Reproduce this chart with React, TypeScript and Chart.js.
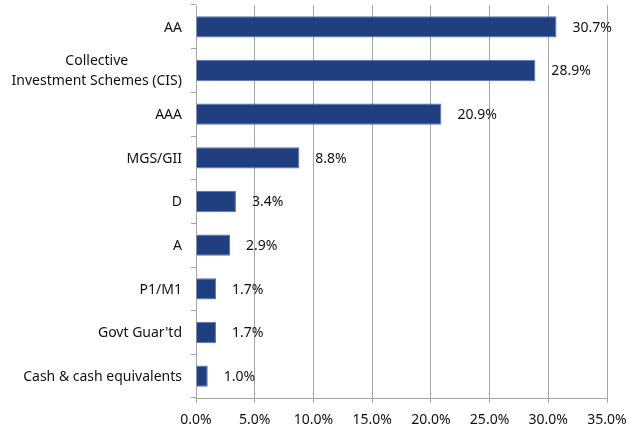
import React, { useEffect, useRef } from "react";
import { Chart, registerables } from "chart.js";

Chart.register(...registerables);

const categories: (string | string[])[] = [
  "AA",
  ["Collective", "Investment Schemes (CIS)"],
  "AAA",
  "MGS/GII",
  "D",
  "A",
  "P1/M1",
  "Govt Guar'td",
  "Cash & cash equivalents",
];
const values: number[] = [30.7, 28.9, 20.9, 8.8, 3.4, 2.9, 1.7, 1.7, 1.0];
const xTickMax = 35;
const xTickStep = 5;

const FONT = "Noto Sans";
const TEXT = "#111111";
const GRID = "#a6a6a6";
const BAR = "#1f3f80";

const labelPlugin = {
  id: "customLabels",
  afterDraw(chart: any) {
    const ctx = chart.ctx as CanvasRenderingContext2D;
    const yScale = chart.scales.y;
    const meta = chart.getDatasetMeta(0);
    ctx.save();
    ctx.font = `14px "${FONT}"`;
    ctx.fillStyle = TEXT;
    // value labels
    ctx.textAlign = "left";
    ctx.textBaseline = "middle";
    meta.data.forEach((bar: any, i: number) => {
      ctx.fillText(values[i].toFixed(1) + "%", bar.x + 16, bar.y + 1);
    });
    // category labels
    const rightX = yScale.right - 14;
    categories.forEach((c, i) => {
      const y = yScale.getPixelForValue(i);
      const lines = Array.isArray(c) ? c : [c];
      const lh = 20;
      const widths = lines.map((l) => ctx.measureText(l).width);
      const maxW = Math.max(...widths);
      const cx = rightX - maxW / 2;
      ctx.textAlign = "center";
      lines.forEach((l, k) => {
        const ly = y + (k - (lines.length - 1) / 2) * lh + 1;
        ctx.fillText(l, cx, ly);
      });
    });
    ctx.restore();
  },
};

export default function App() {
  const ref = useRef<HTMLCanvasElement | null>(null);
  useEffect(() => {
    if (!ref.current) return;
    const chart = new Chart(ref.current, {
      type: "bar",
      data: {
        labels: categories as any,
        datasets: [
          {
            data: values,
            backgroundColor: BAR,
            borderColor: "#5471ad",
            borderWidth: 1,
            categoryPercentage: 1,
            barPercentage: 0.49,
          },
        ],
      },
      options: {
        indexAxis: "y",
        animation: false,
        responsive: false,
        maintainAspectRatio: false,
        layout: { padding: { top: 5, right: 31, bottom: 0, left: 0 } },
        plugins: {
          legend: { display: false },
          tooltip: { enabled: false },
          title: { display: false },
        },
        scales: {
          x: {
            min: 0,
            max: xTickMax,
            afterFit(scale: any) {
              scale.height = 28;
            },
            ticks: {
              stepSize: xTickStep,
              color: TEXT,
              font: { family: FONT, size: 14 },
              padding: 9,
              callback: (v: any) => Number(v).toFixed(1) + "%",
            },
            grid: {
              color: GRID,
              lineWidth: 1,
              drawTicks: true,
              tickLength: 5,
              tickColor: GRID,
            },
            border: { display: true, color: GRID, width: 1 },
          },
          y: {
            afterFit(scale: any) {
              scale.width = 196;
            },
            ticks: { display: false },
            grid: {
              drawOnChartArea: false,
              drawTicks: true,
              tickLength: 5,
              tickColor: GRID,
              offset: true,
            },
            border: { display: true, color: GRID, width: 1 },
          },
        },
      },
      plugins: [labelPlugin],
    });
    return () => chart.destroy();
  }, []);
  return (
    <div style={{ position: "fixed", left: 0, top: 0, width: 638, height: 426, background: "#fff" }}>
      <canvas ref={ref} width={638} height={426} style={{ display: "block" }} />
    </div>
  );
}
